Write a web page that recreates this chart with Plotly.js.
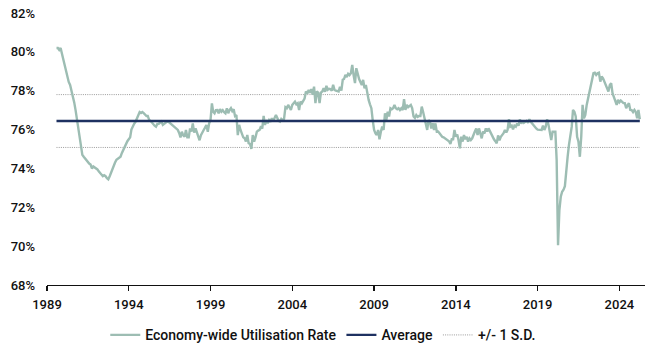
<!DOCTYPE html>
<html>
<head>
<meta charset="utf-8">
<script src="https://cdn.plot.ly/plotly-3.0.1.min.js"></script>
<style>
  html, body { margin: 0; padding: 0; background: #ffffff; }
  #chart { width: 648px; height: 354px; }
</style>
</head>
<body>
<div id="chart"></div>
<script>
// ---- Data ----
const startYear = 1989;
const startMonth = 8; // August 1989, monthly observations

const rate1989to1994 = [
  80.2, 80.2, 80.1, 80.2, 79.9,
  79.6, 79.2, 78.9, 78.6, 78.45, 78.3, 78.0, 77.8, 77.4, 77.0, 76.5, 75.9,
  75.4, 74.95, 74.7, 74.6, 74.5, 74.4, 74.3, 74.25, 74.2, 74.0, 74.1, 74.05,
  74.0, 73.95, 73.85, 73.75, 73.7, 73.6, 73.65, 73.6, 73.5, 73.44, 73.6, 73.8,
  74.0, 74.2, 74.3, 74.45, 74.5, 74.55, 74.6, 74.8, 74.95, 75.1, 75.3, 75.4,
  75.5, 75.6, 76.0, 76.2, 76.3, 76.4, 76.6, 76.7, 76.9, 76.85, 76.9, 76.85
];
const rate1995to2000 = [
  76.75, 76.7, 76.7, 76.5, 76.45, 76.35, 76.3, 76.2, 76.15, 76.29, 76.3, 76.35,
  76.41, 76.24, 76.3, 76.32, 76.4, 76.41, 76.35, 76.29, 76.2, 76.15, 76.1, 76.06,
  75.98, 75.81, 75.6, 75.89, 75.7, 75.63, 75.98, 75.6, 75.6, 76.06, 75.9, 76.32,
  75.84, 76.06, 75.9, 75.71, 75.45, 75.71, 75.89, 75.98, 76.1, 76.24, 75.89, 76.32,
  76.49, 77.35, 76.92, 76.84, 77.0, 77.01, 76.84, 77.05, 76.92, 77.0, 76.9, 76.84,
  77.1, 76.84, 77.0, 77.1, 76.95, 77.05, 76.7, 76.75, 75.71, 76.24, 75.98, 75.8
];
const rate2001to2006 = [
  75.6, 75.55, 75.38, 75.72, 75.3, 75.26, 75.0, 75.72, 75.38, 75.6, 75.89, 75.95,
  75.98, 76.18, 76.05, 76.7, 76.24, 76.49, 76.32, 76.49, 76.4, 76.58, 76.45, 76.6,
  76.75, 76.6, 76.45, 76.41, 76.55, 76.49, 76.55, 77.15, 77.1, 77.27, 77.15, 77.01,
  77.27, 77.35, 77.44, 77.3, 77.36, 77.01, 77.44, 77.35, 77.53, 77.6, 77.96, 77.85,
  78.04, 77.9, 78.08, 77.8, 78.21, 77.36, 77.96, 77.9, 77.36, 77.9, 77.96, 78.13,
  77.95, 78.25, 78.05, 78.1, 78.08, 78.0, 78.3, 78.04, 78.0, 77.98, 77.96, 78.2
];
const rate2007to2012 = [
  78.0, 78.56, 78.6, 78.81, 78.7, 78.87, 78.8, 78.9, 79.33, 78.81, 78.39, 79.16,
  78.81, 78.6, 78.45, 78.3, 78.56, 78.13, 78.3, 77.87, 77.53, 77.3, 77.1, 76.49,
  75.98, 75.8, 75.72, 75.98, 75.5, 75.89, 76.15, 75.98, 76.84, 76.49, 76.92, 76.67,
  77.1, 77.05, 77.1, 77.27, 77.1, 77.05, 77.1, 77.01, 77.1, 77.0, 77.56, 77.01,
  77.27, 77.15, 77.2, 77.27, 77.1, 76.67, 76.6, 76.75, 76.65, 76.7, 76.7, 77.18,
  76.9, 76.58, 76.45, 75.98, 76.49, 76.41, 76.06, 76.32, 75.98, 76.32, 75.89, 75.9
];
const rate2013to2018 = [
  75.81, 75.7, 75.63, 75.6, 75.55, 75.5, 75.45, 75.4, 75.26, 75.5, 75.5, 75.98,
  75.63, 75.75, 75.46, 75.03, 75.63, 75.38, 75.72, 75.5, 75.63, 75.38, 75.55, 75.46,
  75.55, 75.8, 75.9, 76.06, 75.72, 76.06, 75.72, 75.55, 75.9, 75.8, 76.06, 75.9,
  76.06, 75.9, 75.81, 75.63, 75.5, 75.4, 75.29, 75.7, 75.45, 75.63, 75.7, 75.81,
  75.98, 75.85, 75.98, 76.53, 76.15, 76.2, 76.01, 76.2, 76.15, 76.32, 76.2, 76.53,
  76.3, 76.45, 76.35, 76.4, 76.45, 76.35, 76.53, 76.4, 76.3, 76.24, 76.1, 76.06
];
const rate2019to2025 = [
  76.0, 75.98, 76.0, 75.98, 76.2, 75.98, 76.15, 76.53, 76.24, 75.72, 75.46, 75.89,
  75.89, 75.89, 74.43, 70.05, 71.86, 72.54, 72.8, 72.9, 73.09, 74.09, 74.6, 75.21,
  75.63, 76.15, 77.01, 76.92, 76.67, 75.63, 75.38, 74.6, 75.63, 77.27, 76.58, 76.75,
  77.27, 77.61, 77.96, 78.2, 78.56, 78.9, 78.93, 78.81, 78.9, 78.93, 78.47, 78.73,
  78.64, 78.47, 78.35, 78.21, 77.96, 78.3, 78.39, 77.87, 77.7, 77.5, 77.27, 77.53,
  77.4, 77.49, 77.4, 77.36, 77.36, 77.1, 77.25, 77.36, 77.01, 77.0, 76.9, 77.01,
  76.9, 76.58, 77.01, 76.53
];

const averageRate = 76.44;   // long-run average
const stdDevRate = 1.36;     // one standard deviation

const xTickYears = [1989, 1994, 1999, 2004, 2009, 2014, 2019, 2024];
const yTickValues = [68, 70, 72, 74, 76, 78, 80, 82];

const seriesNames = ['Economy-wide Utilisation Rate', 'Average', '+/- 1 S.D.'];

// ---- Build traces ----
const utilisation = [].concat(rate1989to1994, rate1995to2000, rate2001to2006,
                              rate2007to2012, rate2013to2018, rate2019to2025);
const dates = utilisation.map((_, i) => {
  const m0 = startMonth - 1 + i;
  const y = startYear + Math.floor(m0 / 12);
  const m = (m0 % 12) + 1;
  return y + '-' + String(m).padStart(2, '0') + '-01';
});
const firstDate = dates[0];
const lastDate = dates[dates.length - 1];

const green = '#9dbdb3';
const navy = '#1e3161';
const grey = '#9a9a9a';

const traces = [
  {
    x: [firstDate, lastDate], y: [averageRate + stdDevRate, averageRate + stdDevRate],
    type: 'scatter', mode: 'lines', name: seriesNames[2], legendgroup: 'sd',
    line: { color: grey, width: 1, dash: '1px,1.2px' }, legendrank: 3, hoverinfo: 'skip'
  },
  {
    x: [firstDate, lastDate], y: [averageRate - stdDevRate, averageRate - stdDevRate],
    type: 'scatter', mode: 'lines', name: seriesNames[2], legendgroup: 'sd', showlegend: false,
    line: { color: grey, width: 1, dash: '1px,1.2px' }, hoverinfo: 'skip'
  },
  {
    x: dates, y: utilisation, type: 'scatter', mode: 'lines', name: seriesNames[0],
    line: { color: green, width: 2.4 }, legendrank: 1
  },
  {
    x: [firstDate, lastDate], y: [averageRate, averageRate],
    type: 'scatter', mode: 'lines', name: seriesNames[1],
    line: { color: navy, width: 2.4 }, legendrank: 2
  }
];

const layout = {
  width: 648, height: 354,
  margin: { l: 47, r: 3, t: 13, b: 69 },
  paper_bgcolor: '#ffffff', plot_bgcolor: '#ffffff',
  font: { family: 'Roboto, "Open Sans", sans-serif', size: 13, color: '#111111', weight: 500 },
  showlegend: true,
  legend: {
    orientation: 'h', x: 0.462, xanchor: 'center', y: -0.185, yanchor: 'middle',
    font: { size: 14, color: '#111111', weight: 500 }, traceorder: 'normal'
  },
  xaxis: {
    type: 'date',
    range: ['1989-01-01', '2025-07-26'],
    tickvals: xTickYears.map(y => y + '-01-01'),
    ticktext: xTickYears.map(String),
    showgrid: false, zeroline: false,
    showline: true, linecolor: '#111', linewidth: 1.3,
    ticks: 'outside', ticklen: 5, tickwidth: 1.3, tickcolor: '#111',
    ticklabelstandoff: 2,
    tickfont: { size: 13, weight: 500 }
  },
  yaxis: {
    range: [68, 82],
    tickvals: yTickValues,
    ticktext: yTickValues.map(v => v + '%'),
    showgrid: false, zeroline: false, showline: false, ticks: '',
    ticklabelstandoff: 11,
    tickfont: { size: 13, weight: 500 }
  }
};

Plotly.newPlot('chart', traces, layout, { displayModeBar: false, staticPlot: true });
</script>
</body>
</html>
